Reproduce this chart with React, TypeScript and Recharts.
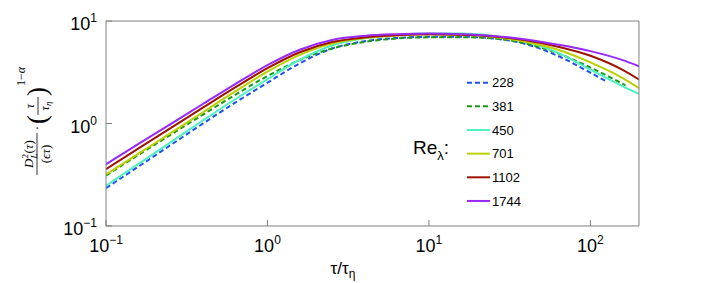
import { LineChart, Line, XAxis, YAxis, Legend } from "recharts";

// tau / tau_eta sample points (5 per decade)
const tauFull = [0.1, 0.158, 0.251, 0.398, 0.631, 1, 1.585, 2.512, 3.981, 6.31, 10, 15.85, 25.12, 39.81, 63.1, 100, 158.5, 200];
const tau228 = [0.1, 0.158, 0.251, 0.398, 0.631, 1, 1.585, 2.512, 3.981, 6.31, 10, 15.85, 25.12, 39.81, 63.1, 100, 128];
const tau381 = [0.1, 0.158, 0.251, 0.398, 0.631, 1, 1.585, 2.512, 3.981, 6.31, 10, 15.85, 25.12, 39.81, 63.1, 100, 165];

const re228 = [0.234, 0.378, 0.615, 0.998, 1.598, 2.5, 3.864, 5.39, 6.346, 6.832, 7.015, 7.031, 6.761, 5.957, 4.56, 3.133, 2.53];
const re381 = [0.31, 0.492, 0.776, 1.219, 1.904, 2.904, 4.169, 5.39, 6.245, 6.754, 6.934, 6.95, 6.761, 6.026, 4.831, 3.516, 2.36];
const re450 = [0.247, 0.401, 0.655, 1.069, 1.724, 2.71, 4.188, 5.774, 6.77, 7.32, 7.568, 7.551, 7.161, 6.31, 4.887, 3.357, 2.307, 1.95];
const re701 = [0.318, 0.506, 0.805, 1.288, 2.056, 3.214, 4.677, 6.026, 6.808, 7.228, 7.43, 7.362, 6.998, 6.281, 5.236, 3.945, 2.773, 2.213];
const re1102 = [0.359, 0.568, 0.9, 1.426, 2.249, 3.467, 4.955, 6.237, 6.918, 7.261, 7.413, 7.362, 7.079, 6.486, 5.61, 4.581, 3.334, 2.685];
const re1744 = [0.4, 0.628, 0.986, 1.549, 2.427, 3.715, 5.248, 6.531, 7.161, 7.43, 7.534, 7.447, 7.161, 6.607, 5.875, 5.082, 4.15, 3.622];

const reNames = ["228", "381", "450", "701", "1102", "1744"];
const reColors = ["#2050f0", "#1a9a1a", "#50f0c0", "#bccf00", "#9c1400", "#9a28f8"];
const reDashes = ["5 3", "5 3", undefined, undefined, undefined, undefined];
const reTaus = [tau228, tau381, tauFull, tauFull, tauFull, tauFull];
const reValues = [re228, re381, re450, re701, re1102, re1744];

const xMajor = [0.1, 1, 10, 100];
const xMajorLabels = ["−1", "0", "1", "2"];
const xMinor = [0.2, 0.3, 0.4, 0.5, 0.6, 0.7, 0.8, 0.9, 2, 3, 4, 5, 6, 7, 8, 9, 20, 30, 40, 50, 60, 70, 80, 90];
const yMajor = [0.1, 1, 10];
const yMajorLabels = ["−1", "0", "1"];
const yMinor = [0.2, 0.3, 0.4, 0.5, 0.6, 0.7, 0.8, 0.9, 2, 3, 4, 5, 6, 7, 8, 9];

const series = reNames.map((name, i) => ({
  name,
  color: reColors[i],
  dash: reDashes[i],
  data: reTaus[i].map((t, j) => ({ x: t, y: reValues[i][j] })),
}));

const SANS = "'Liberation Sans', Arial, sans-serif";
const SERIF = "'Liberation Serif', 'Times New Roman', serif";
const AXIS = "#808080";
const LEFT = 106;
const BOTTOM = 226;
const THIN = 0.01; // axes need a non-zero size to render

function XTick(props: any) {
  const i = xMajor.indexOf(props.payload.value);
  return (
    <text x={props.x} y={BOTTOM + 26} textAnchor="middle" fontSize={18} fontFamily={SANS} fill="#000">
      10<tspan dy={-8} fontSize={12}>{xMajorLabels[i]}</tspan>
    </text>
  );
}

function YTick(props: any) {
  const i = yMajor.indexOf(props.payload.value);
  return (
    <text x={LEFT - 9} y={props.y + 9} textAnchor="end" fontSize={18} fontFamily={SANS} fill="#000">
      10<tspan dy={-8} fontSize={12}>{yMajorLabels[i]}</tspan>
    </text>
  );
}

function XLabel() {
  return (
    <text x={343} y={274} textAnchor="middle" fontSize={17} fontFamily={SANS} fill="#000">
      τ/τ<tspan fontSize={12} dy={4}>η</tspan>
    </text>
  );
}

function YLabel() {
  return (
    <g transform="translate(37,120) rotate(-90)" fontFamily={SERIF} fill="#000">
      <text x={-34} y={-4} textAnchor="middle" fontSize={13}>
        <tspan fontStyle="italic">D</tspan>
        <tspan fontSize={9} dy={-5}>2</tspan>
        <tspan fontSize={9} fontStyle="italic" dx={-4.5} dy={9}>L</tspan>
        <tspan dy={-4}>(</tspan>
        <tspan fontStyle="italic">τ</tspan>)
      </text>
      <line x1={-55} x2={-13} y1={0} y2={0} stroke="#000" strokeWidth={0.8} />
      <text x={-34} y={13} textAnchor="middle" fontSize={13}>
        (<tspan fontStyle="italic">ϵτ</tspan>)
      </text>
      <text x={-8} y={4} textAnchor="middle" fontSize={13}>·</text>
      <text x={-4} y={9} fontSize={27}>(</text>
      <text x={14} y={-3} textAnchor="middle" fontSize={12} fontStyle="italic">τ</text>
      <line x1={5} x2={23} y1={1} y2={1} stroke="#000" strokeWidth={0.8} />
      <text x={14} y={12} textAnchor="middle" fontSize={12} fontStyle="italic">
        τ<tspan fontSize={9} dy={2}>η</tspan>
      </text>
      <text x={24} y={9} fontSize={27}>)</text>
      <text x={34} y={-12} fontSize={12}>
        1−<tspan fontStyle="italic">α</tspan>
      </text>
    </g>
  );
}

function LegendBox() {
  return (
    <svg width={140} height={150} style={{ overflow: "visible" }}>
      <text x={8} y={84} fontSize={19} fontFamily={SANS} fill="#000">
        Re<tspan fontSize={13} dy={6}>λ</tspan>
        <tspan dy={-6}>:</tspan>
      </text>
      {series.map((s, i) => {
        const y = 12.7 + i * 23.65;
        return (
          <g key={s.name}>
            <line x1={62} x2={85} y1={y} y2={y} stroke={s.color} strokeWidth={2} strokeDasharray={s.dash} />
            <text x={87} y={y + 4.7} fontSize={13} fontFamily={SANS} fill="#000">
              {s.name}
            </text>
          </g>
        );
      })}
    </svg>
  );
}

const axisCommon = {
  type: "number" as const,
  scale: "log" as const,
  allowDataOverflow: true,
  interval: 0 as const,
  stroke: AXIS,
};

export default function App() {
  return (
    <div style={{ position: "absolute", left: 0, top: 0, width: 706, height: 283, background: "#fff" }}>
      <LineChart width={706} height={283} margin={{ top: 21, right: 67, bottom: 57, left: 106 }}>
        <XAxis {...axisCommon} xAxisId={0} dataKey="x" domain={[0.1, 200]} ticks={xMajor} tick={XTick} tickSize={-6} height={THIN} label={{ content: XLabel }} />
        <XAxis {...axisCommon} xAxisId="xm" domain={[0.1, 200]} ticks={xMinor} tick={false} tickSize={-3.5} axisLine={false} height={THIN} />
        <XAxis {...axisCommon} xAxisId="xt" orientation="top" domain={[0.1, 200]} ticks={xMajor} tick={false} tickSize={-6} height={THIN} />
        <XAxis {...axisCommon} xAxisId="xtm" orientation="top" domain={[0.1, 200]} ticks={xMinor} tick={false} tickSize={-3.5} axisLine={false} height={THIN} />
        <YAxis {...axisCommon} yAxisId={0} domain={[0.1, 10]} ticks={yMajor} tick={YTick} tickSize={-6} width={THIN} label={{ content: YLabel }} />
        <YAxis {...axisCommon} yAxisId="ym" domain={[0.1, 10]} ticks={yMinor} tick={false} tickSize={-3.5} axisLine={false} width={THIN} />
        <YAxis {...axisCommon} yAxisId="yr" orientation="right" domain={[0.1, 10]} ticks={yMajor} tick={false} tickSize={-6} width={THIN} />
        <YAxis {...axisCommon} yAxisId="yrm" orientation="right" domain={[0.1, 10]} ticks={yMinor} tick={false} tickSize={-3.5} axisLine={false} width={THIN} />
        <Legend
          layout="vertical"
          align="center"
          verticalAlign="middle"
          content={LegendBox}
          wrapperStyle={{ position: "absolute", left: 405, top: 70, width: 140, height: 150 }}
        />
        {series.map((s) => (
          <Line
            key={s.name}
            data={s.data}
            dataKey="y"
            name={s.name}
            type="monotone"
            stroke={s.color}
            strokeWidth={2}
            strokeDasharray={s.dash}
            dot={false}
            isAnimationActive={false}
          />
        ))}
      </LineChart>
    </div>
  );
}
